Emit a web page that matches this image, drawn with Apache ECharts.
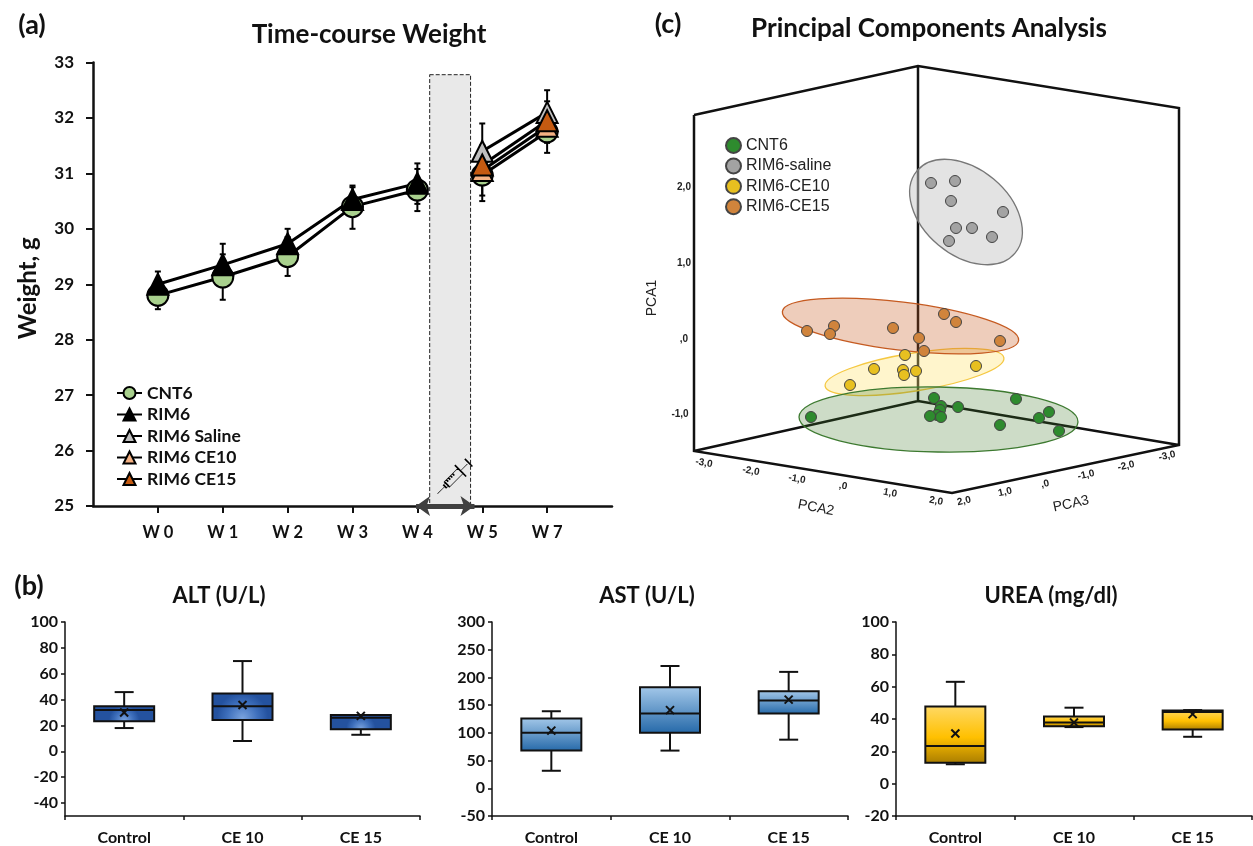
<!DOCTYPE html>
<html><head><meta charset="utf-8">
<style>html,body{margin:0;padding:0;background:#fff}#c{width:1253px;height:846px}</style>
<script src="https://cdn.jsdelivr.net/npm/echarts@6/dist/echarts.min.js"></script>
</head><body><div id="c"></div>
<script>
// ---------- Panel (a) data ----------
const weekLabels = ['W 0','W 1','W 2','W 3','W 4','W 5','W 7'];
const weekPos = [0,1,2,3,4,4.5,5,6];
const cnt6   = [28.8,29.13,29.5,30.4,30.7,null,30.97,31.75];
const rim6   = [29.0,29.35,29.73,30.53,30.82,null,null,null];
const saline = [null,null,null,null,null,null,31.4,32.1];
const ce10   = [null,null,null,null,null,null,31.05,31.85];
const ce15   = [null,null,null,null,null,null,31.15,31.95];
const errCnt6 = [[0,28.55,29.05],[1,28.72,29.54],[2,29.15,29.85],[3,30.0,30.75],[4,30.32,31.08],[5,30.5,31.44],[6,31.37,32.15]];
const errRim6 = [[0,28.77,29.23],[1,28.98,29.73],[2,29.45,30.0],[3,30.28,30.78],[4,30.45,31.18]];
const errSaline = [[5,30.9,31.9],[6,31.7,32.5]];
const errCe10 = [[5,30.6,31.5],[6,31.55,32.15]];
const errCe15 = [[5,30.8,31.5],[6,31.6,32.3]];
// ---------- Panel (b) data: low, Q1, median, Q3, high, mean ----------
const boxCats = ['Control','CE 10','CE 15'];
const altBox  = [[18,23.3,32,34.8,45.8,30],[8,24.3,34.8,44.8,69.8,35.8],[12.8,17,26,28,28,27.4]];
const astBox  = [[31.6,68,100,126,139,104],[68,100,135,182.5,220.6,141],[87.7,135,158.6,175,210,160]];
const ureaBox = [[12,13,23.3,47.7,63,31],[35,35.5,37.8,41.6,47,37.8],[29,33.5,44.3,45.3,45.5,43]];
// ---------- Panel (c) data: projected positions on the drawing plane ----------
const pcaCnt6  = [[131,113],[254,132],[261,124],[260,120],[257,115],[250,114],[261,113],[278,123],[336,131],[359,112],[369,118],[320,105],[379,99]];
const pcaSaline= [[251,347],[275,349],[271,329],[323,318],[276,302],[292,302],[312,293],[269,289]];
const pcaCe10  = [[225,175],[194,161],[170,145],[223,160],[224,155],[236,159],[296,164]];
const pcaCe15  = [[127,199],[154,204],[150,196],[213,202],[239,192],[264,216],[276,208],[320,189],[244,179]];
const pcaEllipses = [ // cx, cy, semi-major, semi-minor, tilt(deg, ccw)
  [234.5,158,90.5,19,9],[258.5,110.5,139.5,32.5,-1],[220.5,204,119,24,-7],[286,318,64,43,-40]];
const pcaFrame = [[14,415],[238,464],[499,422],[499,85],[272,37],[14,79],[14,415],[null,null],
  [238,464],[238,129],[null,null],[14,79],[238,129],[499,85]];
const pcaTickText = ['2,0','1,0',',0','-1,0','-3,0','-2,0','-1,0',',0','1,0','2,0','2,0','1,0',',0','-1,0','-2,0','-3,0'];

const LATO = 'Lato, "Open Sans", sans-serif';
const ARIAL = '"Liberation Sans", Arial, sans-serif';
const pct = d => d*Math.PI/180;

const chart = echarts.init(document.getElementById('c'), null, {renderer:'canvas'});

function errRender(params, api){
  const x=api.value(0), lo=api.coord([x,api.value(1)]), hi=api.coord([x,api.value(2)]);
  const st={stroke:'#000',lineWidth:2,fill:null}, c=3;
  return {type:'group',children:[
    {type:'line',shape:{x1:lo[0],y1:lo[1],x2:hi[0],y2:hi[1]},style:st},
    {type:'line',shape:{x1:lo[0]-c,y1:lo[1],x2:lo[0]+c,y2:lo[1]},style:st},
    {type:'line',shape:{x1:hi[0]-c,y1:hi[1],x2:hi[0]+c,y2:hi[1]},style:st}
  ]};
}
const errSeries = rows => ({type:'custom',xAxisIndex:0,yAxisIndex:0,data:rows,renderItem:errRender,z:2,silent:true,
  encode:{x:0,y:[1,2]}});
const lineSeries = (name,data,symbol,color,size) => ({type:'line',name,xAxisIndex:0,yAxisIndex:0,
  data:weekPos.map((x,i)=>[x,data[i]]),connectNulls:false,symbol,symbolSize:size,showSymbol:true,
  lineStyle:{color:'#000',width:3},itemStyle:{color,borderColor:'#000',borderWidth:2},z:3});

function boxRender(fill){ return function(params, api){
  const x=api.value(0), w=60, cap=9.5;
  const p=i=>api.coord([x,api.value(i)]);
  const lo=p(1),q1=p(2),me=p(3),q3=p(4),hi=p(5),mn=p(6);
  const s={stroke:'#111',lineWidth:2,fill:null}, cx=lo[0], h=q1[1]-q3[1];
  const m=4;
  return {type:'group',children:[
    {type:'line',shape:{x1:cx,y1:lo[1],x2:cx,y2:hi[1]},style:s},
    {type:'line',shape:{x1:cx-cap,y1:lo[1],x2:cx+cap,y2:lo[1]},style:s},
    {type:'line',shape:{x1:cx-cap,y1:hi[1],x2:cx+cap,y2:hi[1]},style:s},
    {type:'rect',shape:{x:cx-w/2,y:q3[1],width:w,height:h},style:{fill:fill,stroke:'#111',lineWidth:2}},
    {type:'line',shape:{x1:cx-w/2,y1:me[1],x2:cx+w/2,y2:me[1]},style:s},
    {type:'line',shape:{x1:cx-m,y1:mn[1]-m,x2:cx+m,y2:mn[1]+m},style:s},
    {type:'line',shape:{x1:cx-m,y1:mn[1]+m,x2:cx+m,y2:mn[1]-m},style:s}
  ]};
};}
const blueRadial={type:'radial',x:0.5,y:0.9,r:0.9,colorStops:[{offset:0,color:'#7aa3de'},{offset:0.6,color:'#3e6fbc'},{offset:1,color:'#24529f'}]};
const blueLinear={type:'linear',x:0,y:0,x2:0,y2:1,colorStops:[{offset:0,color:'#a5c9ea'},{offset:1,color:'#2468a8'}]};
const goldLinear={type:'linear',x:0,y:0,x2:0,y2:1,colorStops:[{offset:0,color:'#ffd966'},{offset:0.55,color:'#ffc000'},{offset:1,color:'#a87c00'}]};
const boxSeries=(idx,rows,fill)=>({type:'custom',xAxisIndex:idx,yAxisIndex:idx,
  data:rows.map((r,i)=>[i,...r]),renderItem:boxRender(fill),encode:{x:0,y:[1,2,3,4,5,6]},silent:true});

function boxAxes(i,min,max,ticks){ return {
  x:{type:'category',gridIndex:i,data:boxCats,axisLine:{onZero:false,lineStyle:{color:'#111',width:1.5}},
     axisTick:{show:true,alignWithLabel:false,length:4,lineStyle:{color:'#111',width:1.5}},
     axisLabel:{color:'#111',fontFamily:LATO,fontWeight:'bold',fontSize:16,margin:14},splitLine:{show:false}},
  y:{type:'value',gridIndex:i,min,max,splitLine:{show:false},
     axisLine:{show:true,onZero:false,lineStyle:{color:'#111',width:1.5}},
     axisTick:{show:true,length:4,customValues:ticks,lineStyle:{color:'#111',width:1.5}},
     axisLabel:{color:'#111',fontFamily:LATO,fontWeight:'bold',fontSize:16,margin:7,customValues:ticks}}
};}
const b1=boxAxes(1,-50,100,[-40,-20,0,20,40,60,80,100]);
const b2=boxAxes(2,-50,300,[-50,0,50,100,150,200,250,300]);
const b3=boxAxes(3,-20,100,[-20,0,20,40,60,80,100]);

const scatter=(name,data,color)=>({type:'scatter',name,xAxisIndex:4,yAxisIndex:4,data,symbol:'circle',symbolSize:11,
  itemStyle:{color,borderColor:'#444',borderWidth:1,opacity:1},z:6});

const syringe='path://M0 15L22 15M22 11L28 11L28 19L22 19ZM28 8L68 8L68 22L28 22ZM68 0L68 30M68 15L92 15M92 5L92 25M34 8L34 13M40 8L40 13M46 8L46 13M52 8L52 13';

function titleAt(text,x,y,size,weight){return {text,left:x,top:y,textAlign:'center',
  textStyle:{fontFamily:LATO,fontWeight:weight||'bold',fontSize:size,color:'#111'}};}

const tickLayout=[[684,187,0],[684,263,0],[684,339,0],[680,414,0],
 [704,463,10],[751,471,10],[797,479,10],[843,486,10],[890,493,10],[936,501,10],
 [964,501,-12],[1005,492,-12],[1045,484,-12],[1086,475,-12],[1126,466,-12],[1167,456,-12]];

const option={
  animation:false,
  backgroundColor:'#fff',
  title:[
    titleAt('(a)',27,7,27,'bold'),
    titleAt('Time-course Weight',364,17,26),
    titleAt('(b)',24,568,27,'bold'),
    titleAt('ALT (U/L)',214,580,22),
    titleAt('AST (U/L)',642,580,22),
    titleAt('UREA (mg/dl)',1046,580,22),
    titleAt('(c)',663,6,27,'bold'),
    titleAt('Principal Components Analysis',924,11,26)
  ],
  legend:[
    {orient:'vertical',left:111,top:379,itemWidth:25,itemHeight:15,itemGap:3.5,
     data:['CNT6','RIM6','RIM6 Saline','RIM6 CE10','RIM6 CE15'],selectedMode:false,
     textStyle:{fontFamily:LATO,fontWeight:'bold',fontSize:17.5,color:'#111'}},
    {orient:'vertical',left:720,top:132,itemWidth:15,itemHeight:15,itemGap:3.4,icon:'circle',selectedMode:false,
     data:['CNT6 ','RIM6-saline','RIM6-CE10','RIM6-CE15'],formatter:n=>n.trim(),
     textStyle:{fontFamily:ARIAL,fontSize:16,color:'#222'}}
  ],
  grid:[
    {left:93,top:62.5,width:519,height:443.5},
    {left:65,top:622,width:355,height:196},
    {left:492,top:622,width:356,height:196},
    {left:896,top:622,width:356,height:196},
    {left:680,top:50,width:520,height:480}
  ],
  xAxis:[
    {type:'value',gridIndex:0,min:-1,max:7,interval:1,splitLine:{show:false},
     axisLine:{onZero:false,lineStyle:{color:'#111',width:2.5}},axisTick:{length:7,lineStyle:{color:'#111',width:2}},
     axisLabel:{color:'#111',fontFamily:LATO,fontWeight:'bold',fontSize:16.5,margin:18,
       showMinLabel:false,showMaxLabel:false,formatter:v=>weekLabels[v]||''}},
    b1.x,b2.x,b3.x,
    {type:'value',gridIndex:4,min:0,max:520,show:false}
  ],
  yAxis:[
    {type:'value',gridIndex:0,min:25,max:33,interval:1,splitLine:{show:false},name:'Weight, g',nameLocation:'middle',nameGap:53,
     nameTextStyle:{fontFamily:LATO,fontWeight:'bold',fontSize:24,color:'#111',padding:[0,8,0,0]},
     axisLine:{show:true,onZero:false,lineStyle:{color:'#111',width:2.5}},axisTick:{show:true,length:7,lineStyle:{color:'#111',width:2}},
     axisLabel:{color:'#111',fontFamily:LATO,fontWeight:'bold',fontSize:17,margin:19}},
    b1.y,b2.y,b3.y,
    {type:'value',gridIndex:4,min:0,max:480,show:false}
  ],
  series:[
    // panel (a)
    errSeries(errCnt6),errSeries(errRim6),errSeries(errSaline),errSeries(errCe10),errSeries(errCe15),
    lineSeries('CNT6',cnt6,'circle','#a9d18e',21),
    lineSeries('RIM6',rim6,'triangle','#000',[21,21]),
    lineSeries('RIM6 Saline',saline,'triangle','#bfbfbf',[21,21]),
    lineSeries('RIM6 CE10',ce10,'triangle','#f4b183',[21,21]),
    lineSeries('RIM6 CE15',ce15,'triangle','#c55a11',[21,21]),
    {type:'line',xAxisIndex:0,yAxisIndex:0,data:[],z:1,silent:true,
     markArea:{silent:true,itemStyle:{color:'#e9e9e9',borderColor:'#222',borderWidth:1,borderType:'dashed'},
       data:[[{xAxis:4.19,yAxis:32.78},{xAxis:4.82,yAxis:25}]]}},
    {type:'line',xAxisIndex:0,yAxisIndex:0,data:[],z:5,silent:true,
     markLine:{silent:true,symbol:['arrow','arrow'],symbolSize:[15,14],label:{show:false},
       lineStyle:{color:'#404040',width:5,type:'solid'},
       data:[[{coord:[3.98,25]},{coord:[4.88,25]}]]}},
    {type:'scatter',xAxisIndex:0,yAxisIndex:0,data:[[4.55,25.5]],symbol:syringe,symbolSize:[44,16],symbolRotate:45,symbolKeepAspect:false,
     itemStyle:{color:'transparent',borderColor:'#000',borderWidth:1,opacity:1},silent:true,z:5},
    // panel (b)
    boxSeries(1,altBox,blueRadial),
    boxSeries(2,astBox,blueLinear),
    boxSeries(3,ureaBox,goldLinear),
    // panel (c)
    {type:'line',xAxisIndex:4,yAxisIndex:4,data:pcaFrame,connectNulls:false,symbol:'none',silent:true,z:4,
     lineStyle:{color:'#111',width:2.5,join:'miter'}},
    {type:'custom',xAxisIndex:4,yAxisIndex:4,data:pcaEllipses,silent:true,z:5,encode:{x:0,y:1},
     renderItem:(params,api)=>{
       const styles=[['rgba(255,225,110,0.35)','#f5c842'],['rgba(60,120,40,0.26)','#3d7a30'],
                     ['rgba(200,90,30,0.30)','#c55a20'],['rgba(200,200,200,0.5)','#777']][params.dataIndex];
       const c=api.coord([api.value(0),api.value(1)]), sz=api.size([api.value(2),api.value(3)]);
       return {type:'ellipse',x:c[0],y:c[1],rotation:pct(api.value(4)),
         shape:{cx:0,cy:0,rx:sz[0],ry:sz[1]},style:{fill:styles[0],stroke:styles[1],lineWidth:1.3}};
     }},
    scatter('CNT6 ',pcaCnt6,'#2e8b2e'),
    scatter('RIM6-saline',pcaSaline,'#a3a3a3'),
    scatter('RIM6-CE10',pcaCe10,'#e8c020'),
    scatter('RIM6-CE15',pcaCe15,'#d0843c')
  ],
  graphic:[
    ...pcaTickText.map((t,i)=>({type:'text',x:tickLayout[i][0],y:tickLayout[i][1],rotation:pct(-tickLayout[i][2]),
      style:{text:t,fontFamily:ARIAL,fontWeight:'bold',fontSize:10,fill:'#222',align:'center',verticalAlign:'middle'}})),
    {type:'text',x:816,y:508,rotation:pct(-11),style:{text:'PCA2',fontFamily:ARIAL,fontSize:14,fill:'#222',align:'center',verticalAlign:'middle'}},
    {type:'text',x:1071,y:504,rotation:pct(12),style:{text:'PCA3',fontFamily:ARIAL,fontSize:14,fill:'#222',align:'center',verticalAlign:'middle'}},
    {type:'text',x:652,y:298,rotation:pct(90),style:{text:'PCA1',fontFamily:ARIAL,fontSize:14,fill:'#222',align:'center',verticalAlign:'middle'}}
  ]
};
chart.setOption(option);
</script></body></html>
